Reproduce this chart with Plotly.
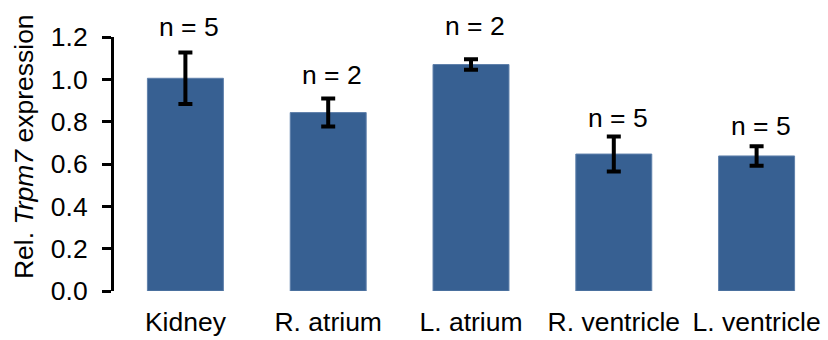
import plotly.graph_objects as go

categories = ["Kidney", "R. atrium", "L. atrium", "R. ventricle", "L. ventricle"]
values = [1.005, 0.843, 1.070, 0.647, 0.638]
errors = [0.122, 0.066, 0.025, 0.083, 0.046]
n_labels = ["n = 5", "n = 2", "n = 2", "n = 5", "n = 5"]
y_ticks = [0.0, 0.2, 0.4, 0.6, 0.8, 1.0, 1.2]

# layout-only: vertical pixel gap between error-bar top and label centre
label_gap_px = [25, 24, 33, 18, 20]

FONT = "Liberation Sans, Arial, sans-serif"
FS = 26.5
BAR = "#376092"

fig = go.Figure()
fig.add_trace(go.Bar(
    x=categories, y=values,
    marker=dict(color=BAR, line=dict(color="#5f80ab", width=1)),
    error_y=dict(type="data", array=errors, visible=True,
                 color="black", thickness=4, width=7),
    hoverinfo="skip",
))

for c, v, e, t, g in zip(categories, values, errors, n_labels, label_gap_px):
    fig.add_annotation(x=c, y=v + e, text=t, showarrow=False,
                       xref="x", yref="y", yanchor="middle",
                       yshift=g, xshift=4,
                       font=dict(family=FONT, size=FS, color="black"))

fig.add_annotation(text="Rel. <i>Trpm7</i> expression", textangle=-90,
                   xref="paper", yref="paper", x=-0.126, y=0.567,
                   xanchor="center", yanchor="middle", showarrow=False,
                   font=dict(family=FONT, size=FS, color="black"))

fig.update_layout(
    width=828, height=340,
    margin=dict(l=114, r=0, t=37, b=49),
    paper_bgcolor="white", plot_bgcolor="white",
    bargap=0.468,
    showlegend=False,
    font=dict(family=FONT, size=FS, color="black"),
    xaxis=dict(showline=False, ticks="", showgrid=False, zeroline=False,
               range=[-0.5, 4.5], ticklabelstandoff=12,
               tickfont=dict(family=FONT, size=FS, color="black")),
    yaxis=dict(range=[0, 1.2], tickvals=y_ticks,
               ticktext=[f"{v:.1f}" for v in y_ticks],
               showline=True, linecolor="black", linewidth=3,
               ticks="outside", ticklen=9, tickwidth=3, tickcolor="black",
               showgrid=False, zeroline=False, ticklabelstandoff=9,
               tickfont=dict(family=FONT, size=FS, color="black")),
)

fig.write_html("out.html")
